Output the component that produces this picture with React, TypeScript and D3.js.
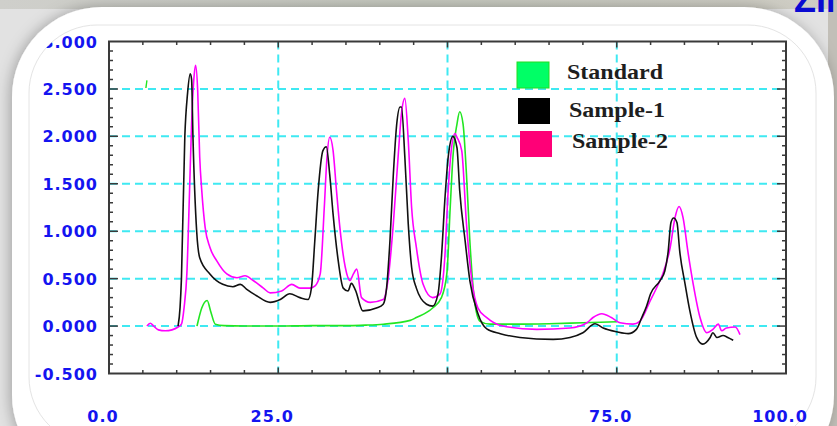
import React from 'react';
import * as d3 from 'd3';

// retention time (x) vs. absorbance (y)
const standard: [number, number][] = [
  [13.0, 0.0], [13.7, 0.19], [14.5, 0.27], [15.0, 0.16], [15.7, 0.02], [17, 0.005], [20, 0.0], [25, 0.0],
  [30, 0.005], [35.6, 0.005], [38, 0.01], [40.5, 0.02], [44.5, 0.06], [45.4, 0.09], [47.8, 0.19], [49.1, 0.3],
  [49.9, 0.55], [50.4, 1.25], [50.8, 1.78], [51.4, 2.13], [51.8, 2.26], [52.3, 2.13], [52.8, 1.6], [53.3, 0.9],
  [54.0, 0.26], [54.8, 0.05], [56.3, 0.02], [60, 0.02], [65, 0.025], [70, 0.035], [75, 0.045],
];
const standardSpike: [number, number][] = [[5.45, 2.51], [5.6, 2.59]];

const sample1: [number, number][] = [
  [10.2, 0.0], [10.5, 0.2], [10.7, 0.5], [11.2, 2.0], [11.6, 2.45], [12.0, 2.66], [12.2, 2.6], [12.4, 2.0],
  [12.95, 1.0], [13.4, 0.72], [14.9, 0.55], [16.8, 0.44], [18.3, 0.415], [19.4, 0.44], [20.3, 0.39], [21.8, 0.32],
  [23.8, 0.25], [25.3, 0.28], [26.7, 0.34], [28.2, 0.3], [29.4, 0.28], [29.9, 0.4], [30.4, 0.9], [30.9, 1.43],
  [31.6, 1.85], [32.1, 1.89], [32.6, 1.6], [33.1, 1.18], [33.8, 0.72], [34.6, 0.4], [35.3, 0.37], [35.8, 0.45],
  [36.4, 0.38], [37.5, 0.16], [39.5, 0.19], [40.5, 0.23], [41.0, 0.4], [41.5, 0.9], [42.0, 1.6], [42.5, 2.13],
  [43.0, 2.31], [43.2, 2.31], [43.7, 1.78], [44.2, 1.08], [44.7, 0.62], [45.4, 0.4], [46.9, 0.23], [47.8, 0.21],
  [48.6, 0.34], [49.1, 0.72], [49.6, 1.32], [50.1, 1.78], [50.8, 2.0], [51.4, 1.88], [51.8, 1.43], [52.6, 0.9],
  [53.3, 0.48], [54.5, 0.13], [55.8, -0.03], [57.8, -0.08], [60.7, -0.12], [65.6, -0.14], [68.1, -0.12], [70.0, -0.07],
  [71.8, 0.025], [73.0, -0.02], [75.0, -0.06], [76.7, -0.08], [77.9, -0.035], [78.7, 0.09], [79.4, 0.21], [80.0, 0.34],
  [81.4, 0.48], [82.1, 0.58], [82.6, 0.79], [83.0, 1.09], [83.4, 1.14], [83.9, 1.09], [84.3, 0.79], [85.1, 0.44],
  [85.8, 0.16], [86.8, -0.12], [87.7, -0.19], [88.8, -0.12], [89.2, -0.07], [89.8, -0.12], [90.7, -0.1], [91.4, -0.12],
  [92.2, -0.15],
];

const sample2: [number, number][] = [
  [5.6, 0.0], [6.1, 0.03], [6.6, 0.0], [7.3, -0.04], [8.3, -0.05], [9.3, -0.04], [10.2, -0.01], [10.7, 0.02],
  [11.1, 0.2], [11.5, 0.55], [11.9, 1.43], [12.2, 2.13], [12.6, 2.66], [12.8, 2.75], [13.1, 2.48], [13.4, 1.78],
  [13.7, 1.43], [14.2, 1.04], [14.9, 0.83], [15.9, 0.69], [17.4, 0.55], [18.9, 0.51], [20.1, 0.53], [21.3, 0.48],
  [22.8, 0.4], [23.8, 0.35], [25.5, 0.37], [27.0, 0.44], [28.2, 0.4], [29.7, 0.4], [30.4, 0.42], [31.2, 0.55],
  [31.8, 1.25], [32.2, 1.78], [32.6, 1.99], [33.1, 1.85], [33.6, 1.43], [34.1, 1.04], [34.9, 0.62], [35.6, 0.48],
  [36.1, 0.55], [36.6, 0.6], [37.3, 0.3], [38.6, 0.25], [40.5, 0.28], [41.2, 0.48], [42.0, 1.08], [42.7, 1.78],
  [43.2, 2.24], [43.7, 2.4], [44.2, 1.96], [44.7, 1.25], [45.4, 0.83], [46.4, 0.44], [47.8, 0.3], [48.9, 0.34],
  [49.6, 0.72], [50.1, 1.43], [50.6, 1.88], [51.1, 2.03], [51.4, 1.99], [52.1, 1.85], [52.8, 1.08], [53.6, 0.48],
  [54.5, 0.19], [55.8, 0.09], [58.2, 0.0], [63.2, -0.035], [68.1, -0.02], [70.6, 0.035], [71.5, 0.09], [72.8, 0.13],
  [74.2, 0.09], [75.5, 0.035], [77.4, 0.02], [78.4, 0.05], [79.9, 0.26], [81.0, 0.42], [81.8, 0.55], [82.9, 0.83],
  [83.6, 1.14], [84.2, 1.26], [84.8, 1.14], [85.5, 0.79], [86.3, 0.44], [87.3, 0.09], [88.3, -0.07], [89.2, -0.035],
  [90.0, 0.02], [90.5, -0.05], [91.2, -0.02], [92.5, -0.01], [93.2, -0.09],
];

const yTickLabels = ['3.000', '2.500', '2.000', '1.500', '1.000', '0.500', '0.000', '-0.500'];
const xTickLabels = ['0.0', '25.0', '75.0', '100.0'];
const legendNames = ['Standard', 'Sample-1', 'Sample-2'];
const legendColors = ['#00ff66', '#000000', '#ff0077'];

const width = 837;
const height = 426;
const plot = { left: 109, right: 786, top: 41.5, bottom: 373.5 };

export default function App() {
  const x = d3.scaleLinear().domain([0, 100]).range([plot.left, plot.right]);
  const y = d3.scaleLinear().domain([-0.5, 3.0]).range([plot.bottom, plot.top]);
  const line = d3.line<[number, number]>().x(d => x(d[0])).y(d => y(d[1])).curve(d3.curveMonotoneX);

  const gridY = d3.range(0, 2.51, 0.5);
  const gridX = [25, 50, 75];
  const minorX = d3.range(5, 100, 5);
  const minorY = d3.range(-0.4, 3.0, 0.1);
  const blue = '#1414f0';
  const cyan = '#3fe9f2';
  const axis = '#3a3a3a';

  return (
    <svg width={width} height={height} style={{ position: 'absolute', left: 0, top: 0 }}>
      <defs>
        <clipPath id="inner">
          <rect x={29} y={25} width={800} height={520} rx={68} />
        </clipPath>
        <filter id="shadow" x="-10%" y="-10%" width="120%" height="120%">
          <feGaussianBlur in="SourceAlpha" stdDeviation="7" />
          <feOffset dx="-2" dy="0" result="b" />
          <feFlood floodColor="#000" floodOpacity="0.28" />
          <feComposite in2="b" operator="in" />
          <feMerge>
            <feMergeNode />
            <feMergeNode in="SourceGraphic" />
          </feMerge>
        </filter>
        <linearGradient id="topstrip" x1="0" x2="1" y1="0" y2="0">
          <stop offset="0" stopColor="#cfcfcb" />
          <stop offset="0.5" stopColor="#c6c9bf" />
          <stop offset="1" stopColor="#cfcdc4" />
        </linearGradient>
      </defs>

      <rect x={0} y={0} width={width} height={height} fill="#e2e2e2" />
      <rect x={0} y={0} width={width} height={9} fill="url(#topstrip)" />
      <rect x={828} y={0} width={9} height={height} fill="#c2bfb8" />
      <rect x={12} y={7} width={822} height={478} rx={90} fill="#ffffff" filter="url(#shadow)" />
      <rect x={29} y={25} width={787} height={420} rx={68} fill="none" stroke="#e4e4e4" strokeWidth={1} />

      <g clipPath="url(#inner)">
        {/* grid */}
        {gridY.map(v => (
          <line key={'gy' + v} x1={plot.left} x2={plot.right} y1={y(v)} y2={y(v)}
            stroke={cyan} strokeWidth={2} strokeDasharray="8 5" />
        ))}
        {gridX.map(v => (
          <line key={'gx' + v} x1={x(v)} x2={x(v)} y1={plot.top} y2={plot.bottom}
            stroke={cyan} strokeWidth={2} strokeDasharray="8 5" />
        ))}

        {/* ticks */}
        {minorX.map(v => {
          const major = v % 25 === 0;
          const len = major ? 6 : 3.5;
          return (
            <g key={'tx' + v}>
              <line x1={x(v)} x2={x(v)} y1={plot.top} y2={plot.top + len} stroke={axis} strokeWidth={1.5} />
              <line x1={x(v)} x2={x(v)} y1={plot.bottom} y2={plot.bottom - len} stroke={axis} strokeWidth={1.5} />
            </g>
          );
        })}
        {minorY.map(v => {
          const major = Math.abs(Math.round(v * 2) - v * 2) < 1e-6;
          const len = major ? 9 : 4;
          return (
            <g key={'ty' + v.toFixed(1)}>
              <line x1={plot.left} x2={plot.left + len} y1={y(v)} y2={y(v)} stroke={axis} strokeWidth={1.5} />
              <line x1={plot.right} x2={plot.right - len} y1={y(v)} y2={y(v)} stroke={axis} strokeWidth={1.5} />
            </g>
          );
        })}

        {/* series */}
        <path d={line(standard) || ''} fill="none" stroke="#22e622" strokeWidth={1.6} />
        <path d={line(standardSpike) || ''} fill="none" stroke="#22e622" strokeWidth={1.4} />
        <path d={line(sample2) || ''} fill="none" stroke="#ff00ff" strokeWidth={1.6} />
        <path d={line(sample1) || ''} fill="none" stroke="#111111" strokeWidth={1.6} />

        <rect x={plot.left} y={plot.top} width={plot.right - plot.left} height={plot.bottom - plot.top}
          fill="none" stroke={axis} strokeWidth={2} />

        {/* legend */}
        {legendNames.map((name, i) => {
          const ys = [62, 98, 131];
          const xs = [517, 518, 520];
          const ty = [79, 117, 148];
          const tx = [567, 569, 572];
          return (
            <g key={name}>
              <rect x={xs[i]} y={ys[i]} width={32} height={26} fill={legendColors[i]}
                stroke={i === 0 ? '#22dd22' : 'none'} strokeWidth={1} />
              <text x={tx[i]} y={ty[i]} fontFamily="'Liberation Serif', serif" fontWeight="bold" fontSize={20}
                fill="#1e1e1e" textLength={96} lengthAdjust="spacingAndGlyphs">{name}</text>
            </g>
          );
        })}

        {/* y labels */}
        {yTickLabels.map(l => (
          <text key={l} x={98} y={y(+l) + 6} textAnchor="end" fontFamily="'DejaVu Sans', sans-serif"
            fontWeight="bold" fontSize={16} fill={blue} letterSpacing={1}>{l}</text>
        ))}
        {/* x labels */}
        {xTickLabels.map(l => (
          <text key={l} x={x(+l) - 6} y={421.5} textAnchor="middle" fontFamily="'DejaVu Sans', sans-serif"
            fontWeight="bold" fontSize={16} fill={blue} letterSpacing={1}>{l}</text>
        ))}
      </g>

      <text x={794} y={12} fontFamily="'Liberation Sans', Arial, sans-serif" fontWeight="bold" fontSize={36}
        fill="#0a0ad2">ZIN</text>
    </svg>
  );
}
